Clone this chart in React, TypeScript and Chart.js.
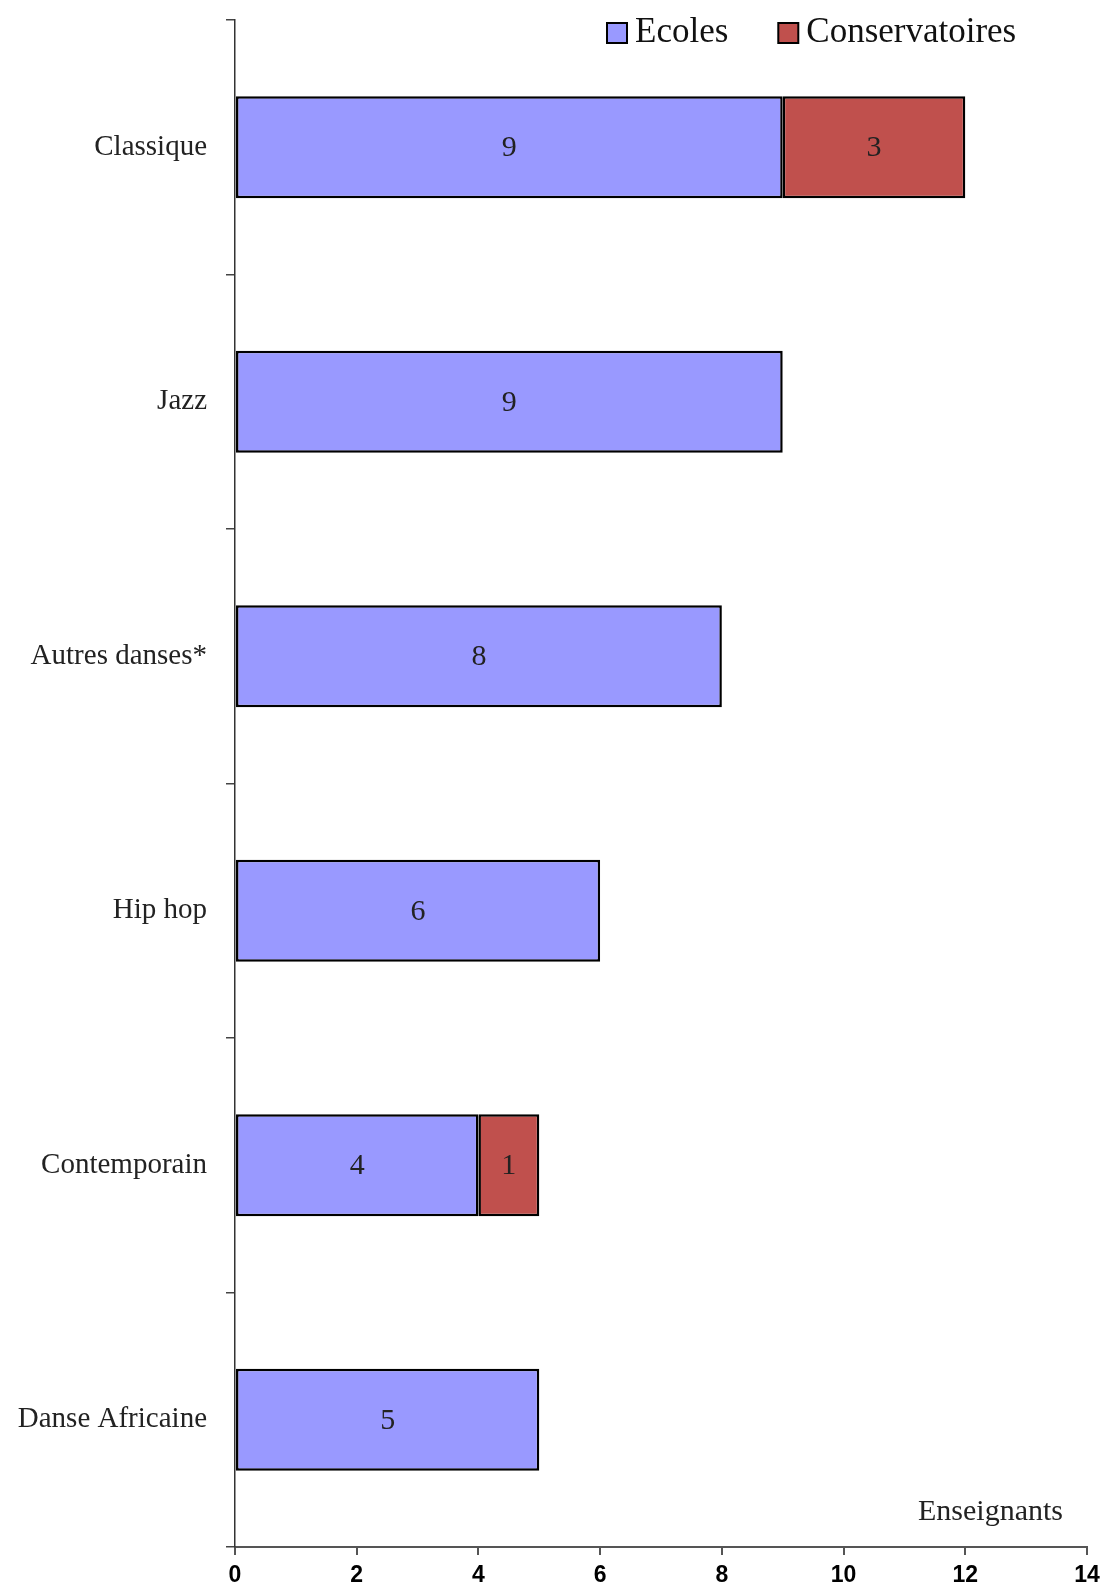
import React, { useEffect, useRef } from "react";
import { Chart, registerables } from "chart.js";

Chart.register(...registerables);

const categories = ["Classique", "Jazz", "Autres danses*", "Hip hop", "Contemporain", "Danse Africaine"];
const ecoles = [9, 9, 8, 6, 4, 5];
const conservatoires = [3, 0, 0, 0, 1, 0];
const seriesNames = ["Ecoles", "Conservatoires"];
const seriesColors = ["#9999FF", "#C0504D"];
const axisTitle = "Enseignants";
const xMin = 0;
const xMax = 14;
const xStep = 2;

const SERIF = "'Liberation Serif', 'Times New Roman', serif";

const overlayPlugin = {
  id: "overlay",
  afterDatasetsDraw(chart: any) {
    const ctx = chart.ctx;
    ctx.save();
    // data labels
    ctx.font = `30px ${SERIF}`;
    ctx.fillStyle = "#222222";
    ctx.textAlign = "center";
    ctx.textBaseline = "middle";
    chart.data.datasets.forEach((ds: any, di: number) => {
      const meta = chart.getDatasetMeta(di);
      meta.data.forEach((el: any, i: number) => {
        const v = ds.data[i];
        if (!v) return;
        const p = el.getCenterPoint();
        ctx.fillText(String(v), p.x, p.y + 1);
      });
    });
    // axis title
    const ca = chart.chartArea;
    ctx.font = `30px ${SERIF}`;
    ctx.textAlign = "right";
    ctx.textBaseline = "alphabetic";
    ctx.fillStyle = "#222222";
    ctx.fillText(axisTitle, ca.right - 24, ca.bottom - 27);
    // legend
    ctx.font = `35px ${SERIF}`;
    ctx.textAlign = "left";
    let x = 607;
    const boxTop = ca.top + 3;
    chart.data.datasets.forEach((ds: any, di: number) => {
      ctx.fillStyle = ds.backgroundColor;
      ctx.fillRect(x, boxTop, 20, 20);
      ctx.lineWidth = 2;
      ctx.strokeStyle = "#000000";
      ctx.strokeRect(x, boxTop, 20, 20);
      ctx.fillStyle = "#111111";
      ctx.fillText(ds.label, x + 28, boxTop + 19);
      const w = ctx.measureText(ds.label).width;
      x = x + 28 + w + 50;
    });
    ctx.restore();
  },
};

export default function App() {
  const ref = useRef<HTMLCanvasElement>(null);
  useEffect(() => {
    if (!ref.current) return;
    const chart = new Chart(ref.current, {
      type: "bar",
      data: {
        labels: categories,
        datasets: [
          {
            label: seriesNames[0],
            data: ecoles,
            backgroundColor: seriesColors[0],
            borderColor: "#000000",
            borderWidth: 2.5,
            borderSkipped: false,
            barPercentage: 0.4,
            categoryPercentage: 1,
          },
          {
            label: seriesNames[1],
            data: conservatoires,
            backgroundColor: seriesColors[1],
            borderColor: "#000000",
            borderWidth: 2.5,
            borderSkipped: false,
            barPercentage: 0.4,
            categoryPercentage: 1,
          },
        ],
      },
      options: {
        indexAxis: "y",
        responsive: false,
        animation: false,
        devicePixelRatio: 1,
        layout: { padding: { top: 20, right: 15, left: 0, bottom: 0 } },
        plugins: {
          legend: { display: false },
          tooltip: { enabled: false },
        },
        scales: {
          x: {
            stacked: true,
            min: xMin,
            max: xMax,
            position: "bottom",
            ticks: {
              stepSize: xStep,
              color: "#000000",
              padding: 7,
              font: { family: "'Liberation Sans Narrow', 'Liberation Sans', Arial, sans-serif", size: 23, weight: "bold" },
            },
            grid: { drawOnChartArea: false, drawTicks: true, tickLength: 8, color: "#555555", lineWidth: 2 },
            border: { color: "#555555", width: 2 },
            afterFit(scale: any) {
              scale.height = 38;
              scale.paddingLeft = 0;
              scale.paddingRight = 0;
            },
          },
          y: {
            stacked: true,
            ticks: {
              color: "#222222",
              padding: 19,
              font: { family: SERIF, size: 29 },
            },
            grid: { offset: true, drawOnChartArea: false, drawTicks: true, tickLength: 9, color: "#444444", lineWidth: 1.5 },
            border: { color: "#333333", width: 1.5 },
            afterFit(scale: any) {
              scale.width = 235;
              scale.paddingTop = 0;
              scale.paddingBottom = 0;
            },
          },
        },
      },
      plugins: [overlayPlugin],
    } as any);
    return () => chart.destroy();
  }, []);
  return (
    <div style={{ position: "fixed", left: 0, top: 0, width: 1102, height: 1585, background: "#ffffff" }}>
      <canvas ref={ref} width={1102} height={1585} style={{ display: "block", width: 1102, height: 1585 }} />
    </div>
  );
}
